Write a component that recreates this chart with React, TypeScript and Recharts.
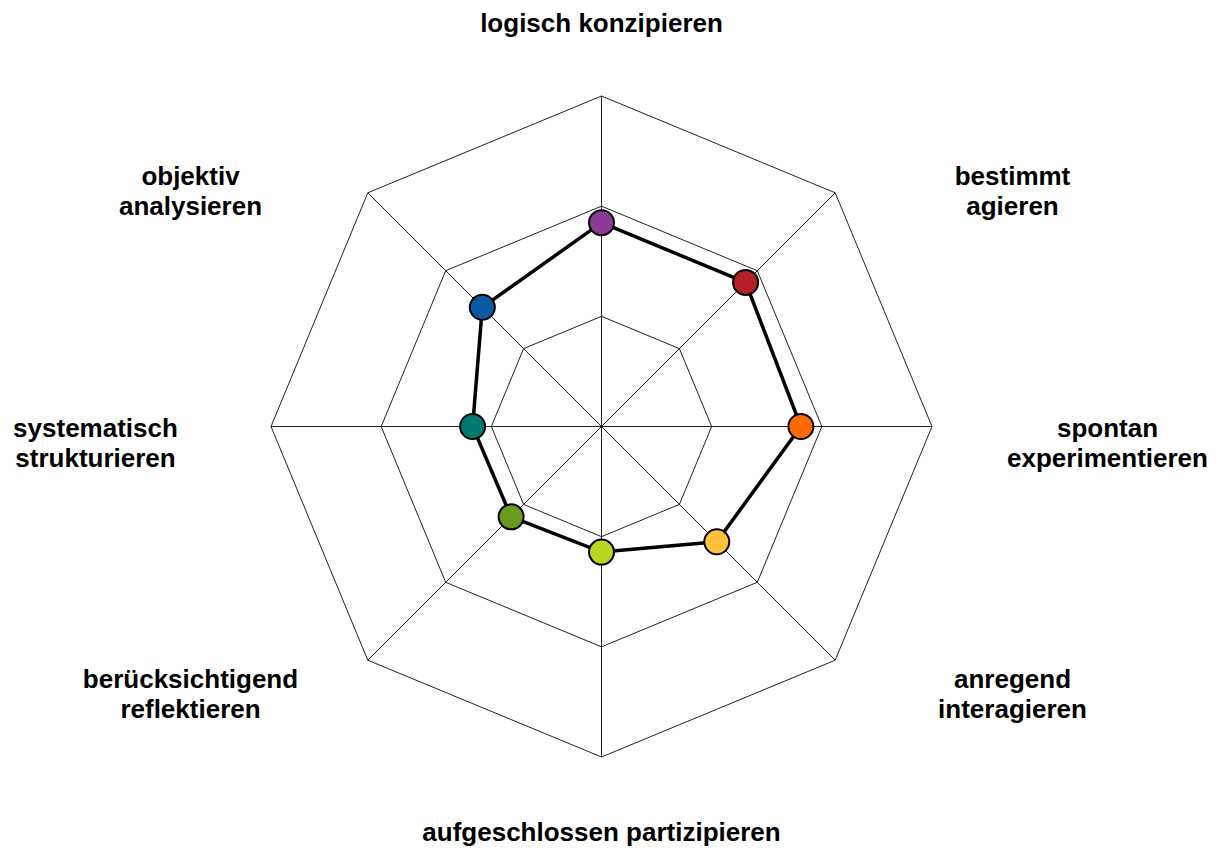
import { RadarChart, Radar, PolarGrid, PolarAngleAxis, PolarRadiusAxis } from "recharts";

const categories = [
  "logisch konzipieren",
  "bestimmt\nagieren",
  "spontan\nexperimentieren",
  "anregend\ninteragieren",
  "aufgeschlossen partizipieren",
  "berücksichtigend\nreflektieren",
  "systematisch\nstrukturieren",
  "objektiv\nanalysieren",
];

const values = [1.85, 1.85, 1.81, 1.48, 1.14, 1.16, 1.17, 1.53];

const dotColors = [
  "#8B3A96",
  "#B41F24",
  "#FF6A00",
  "#FFC13B",
  "#B5D922",
  "#6B9B1E",
  "#00796F",
  "#0B58A4",
];

const data = categories.map((name, i) => ({ name, value: values[i] }));

const W = 1221;
const H = 851;
const CX = 601.5;
const CY = 426.5;
const R = 330.5;

const FONT = "'Liberation Sans', Arial, sans-serif";

function AngleTick(props: any) {
  const { x, y, payload } = props;
  const lines: string[] = String(payload.value).split("\n");
  const sx = Math.abs(x - CX) < 1 ? 0 : Math.sign(x - CX);
  const sy = Math.abs(y - CY) < 1 ? 0 : Math.sign(y - CY);

  // label placement around the web (Excel-like)
  let tx = CX;
  let ty = CY;
  if (sx === 0) {
    ty = sy < 0 ? CY - 395 : CY + 414.5;
  } else if (sy === 0) {
    tx = CX + sx * 506;
    ty = CY + 10.5;
  } else {
    tx = CX + sx * 411;
    ty = sy < 0 ? CY - 241.5 : CY + 261.5;
  }

  return (
    <text
      x={tx}
      y={ty}
      textAnchor="middle"
      fontFamily={FONT}
      fontWeight="bold"
      fontSize={26}
      fill="#000"
    >
      {lines.map((l, i) => (
        <tspan key={i} x={tx} dy={i === 0 ? 0 : 30}>
          {l}
        </tspan>
      ))}
    </text>
  );
}

function ColorDot(props: any) {
  const { cx, cy, index } = props;
  return (
    <circle
      key={`dot-${index}`}
      cx={cx}
      cy={cy}
      r={12.5}
      fill={dotColors[index]}
      stroke="#000"
      strokeWidth={2}
    />
  );
}

export default function App() {
  return (
    <div style={{ position: "absolute", left: 0, top: 0, width: W, height: H, background: "#fff" }}>
      <RadarChart
        width={W}
        height={H}
        data={data}
        cx={CX}
        cy={CY}
        outerRadius={R}
        margin={{ top: 0, right: 0, bottom: 0, left: 0 }}
      >
        <PolarGrid gridType="polygon" stroke="#222" strokeWidth={1} strokeOpacity={1} />
        <PolarAngleAxis dataKey="name" tick={<AngleTick />} tickLine={false} axisLine={false} />
        <PolarRadiusAxis domain={[0, 3]} tickCount={4} tick={false} axisLine={false} />
        <Radar
          dataKey="value"
          stroke="#000"
          strokeWidth={3.5}
          fill="none"
          fillOpacity={0}
          dot={<ColorDot />}
          isAnimationActive={false}
        />
      </RadarChart>
    </div>
  );
}
